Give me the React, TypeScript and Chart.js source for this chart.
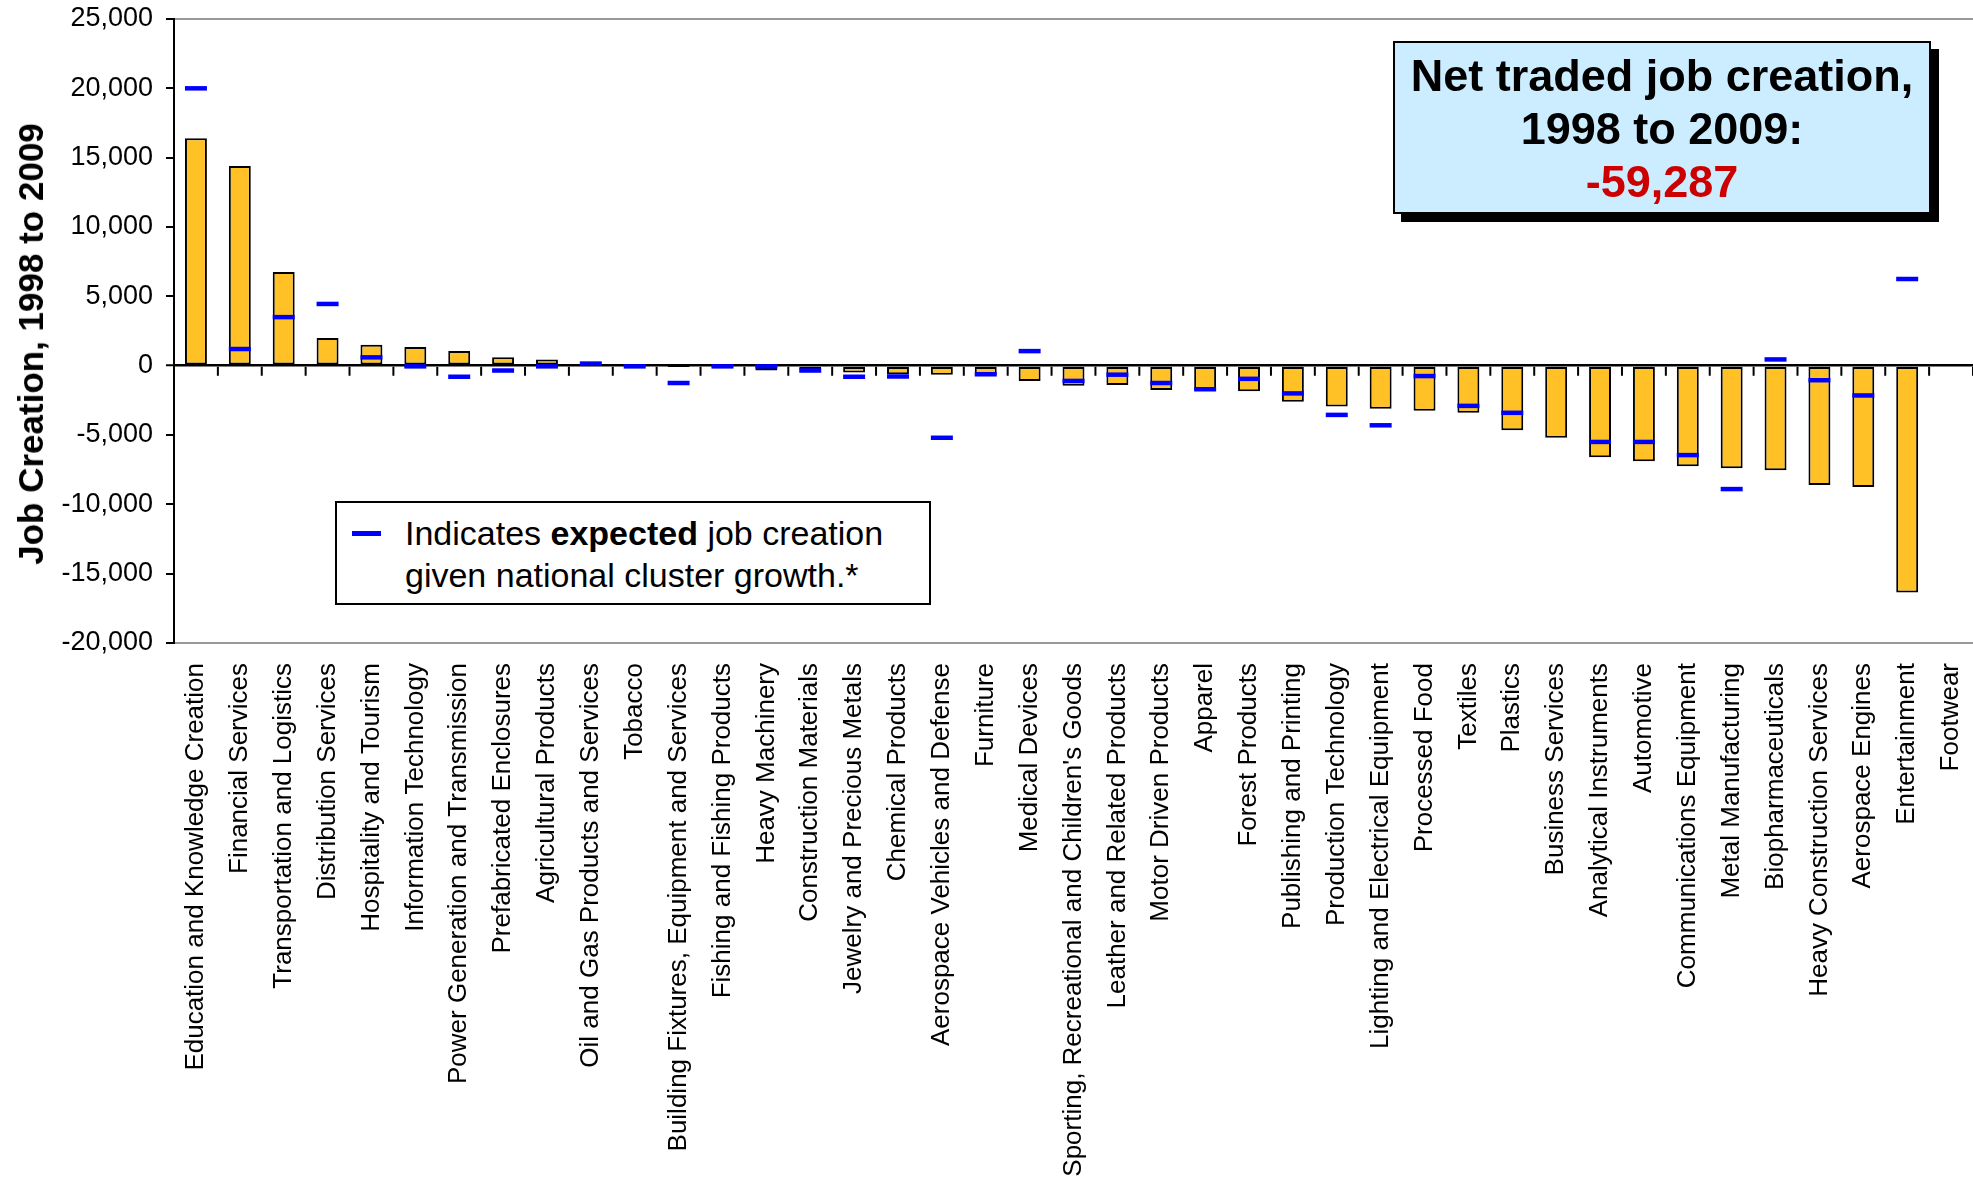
import React, { useEffect, useRef } from "react";
import { Chart, registerables } from "chart.js";

Chart.register(...registerables);

const FONT = "'Liberation Sans', Arial, Helvetica, sans-serif";

const clusters: string[] = [
  "Education and Knowledge Creation",
  "Financial Services",
  "Transportation and Logistics",
  "Distribution Services",
  "Hospitality and Tourism",
  "Information Technology",
  "Power Generation and Transmission",
  "Prefabricated Enclosures",
  "Agricultural Products",
  "Oil and Gas Products and Services",
  "Tobacco",
  "Building Fixtures, Equipment and Services",
  "Fishing and Fishing Products",
  "Heavy Machinery",
  "Construction Materials",
  "Jewelry and Precious Metals",
  "Chemical Products",
  "Aerospace Vehicles and Defense",
  "Furniture",
  "Medical Devices",
  "Sporting, Recreational and Children's Goods",
  "Leather and Related Products",
  "Motor Driven Products",
  "Apparel",
  "Forest Products",
  "Publishing and Printing",
  "Production Technology",
  "Lighting and Electrical Equipment",
  "Processed Food",
  "Textiles",
  "Plastics",
  "Business Services",
  "Analytical Instruments",
  "Automotive",
  "Communications Equipment",
  "Metal Manufacturing",
  "Biopharmaceuticals",
  "Heavy Construction Services",
  "Aerospace Engines",
  "Entertainment",
  "Footwear",
];

// Actual job creation 1998-2009 (bars)
const actualJobs: (number | null)[] = [
  16400, 14400, 6750, 2000, 1500, 1350, 1050, 600, 450, 50,
  0, -30, -150, -350, -300, -500, -620, -650, -650, -1100,
  -1450, -1400, -1750, -1750, -1850, -2600, -2950, -3100, -3250, -3400,
  -4650, -5200, -6600, -6900, -7250, -7400, -7550, -8600, -8750, -16350,
  null,
];

// Expected job creation given national cluster growth (blue dashes)
const expectedJobs: (number | null)[] = [
  20000, 1200, 3500, 4450, 600, -50, -800, -350, -50, 150,
  -50, -1250, -50, -50, -350, -800, -780, -5200, -620, 1050,
  -1100, -650, -1250, -1700, -950, -2000, -3550, -4300, -750, -2900,
  -3400, null, -5500, -5500, -6450, -8900, 450, -1050, -2150, 6250,
  null,
];

const yTickMin = -20000;
const yTickMax = 25000;
const yTickStep = 5000;

const axisTitle = "Job Creation, 1998 to 2009";
const netTitleLines = ["Net traded job creation,", "1998 to 2009:"];
const netValue = "-59,287";

const zeroTicksPlugin = {
  id: "zeroTicks",
  beforeDatasetsDraw(chart: any) {
    const xs = chart.scales.x;
    const ys = chart.scales.y;
    const ctx = chart.ctx;
    const n = clusters.length;
    const y0 = ys.getPixelForValue(0);
    const w = xs.getPixelForTick(1) - xs.getPixelForTick(0);
    ctx.save();
    ctx.strokeStyle = "#000";
    ctx.lineWidth = 2;
    ctx.beginPath();
    for (let i = 1; i <= n; i++) {
      const bx = xs.getPixelForTick(i - 1) + w / 2;
      ctx.moveTo(bx, y0 + 1);
      ctx.lineTo(bx, y0 + 10);
    }
    ctx.stroke();
    ctx.restore();
  },
};

export default function App() {
  const canvasRef = useRef<HTMLCanvasElement | null>(null);

  useEffect(() => {
    if (!canvasRef.current) return;
    const chart = new Chart(canvasRef.current, {
      type: "bar",
      data: {
        labels: clusters,
        datasets: [
          {
            type: "line",
            label: "Expected",
            data: expectedJobs,
            showLine: false,
            pointStyle: "line",
            pointRadius: 11,
            pointHoverRadius: 11,
            pointBorderWidth: 4.5,
            pointBorderColor: "#0000FF",
            pointBackgroundColor: "#0000FF",
            borderColor: "#0000FF",
            clip: false,
            order: 1,
          } as any,
          {
            type: "bar",
            label: "Actual",
            data: actualJobs,
            backgroundColor: "#FFC125",
            borderColor: "#000000",
            borderWidth: 2,
            borderSkipped: false,
            barPercentage: 0.5,
            categoryPercentage: 1,
            order: 2,
          } as any,
        ],
      },
      options: {
        animation: false,
        responsive: false,
        devicePixelRatio: 1,
        layout: { autoPadding: false, padding: { top: 19, right: -9, left: 0, bottom: 0 } },
        plugins: {
          legend: { display: false },
          tooltip: { enabled: false },
        },
        scales: {
          x: {
            ticks: {
              autoSkip: false,
              maxRotation: 90,
              minRotation: 90,
              color: "#000",
              font: { family: FONT, size: 26 },
              padding: 20,
            },
            grid: { display: false, drawTicks: false },
            border: { color: "#999", width: 2 },
            afterFit: (s: any) => {
              s.height = 540;
              s.paddingLeft = 0;
              s.paddingRight = 0;
            },
          },
          y: {
            min: yTickMin,
            max: yTickMax,
            ticks: {
              stepSize: yTickStep,
              color: "#000",
              font: { family: FONT, size: 27 },
              padding: 13,
              callback: (v: any) => Number(v).toLocaleString("en-US"),
            },
            grid: {
              color: (c: any) => {
                const v = c.tick ? c.tick.value : null;
                if (v === 0) return "#000";
                if (v === yTickMax) return "#999";
                return "rgba(0,0,0,0)";
              },
              lineWidth: (c: any) => (c.tick && c.tick.value === 0 ? 2.5 : 2),
              drawTicks: true,
              tickLength: 8,
              tickColor: "#000",
              tickWidth: 2,
            },
            border: { color: "#000", width: 2 },
            title: { display: false },
            afterFit: (s: any) => {
              s.width = 174;
              s.paddingTop = 0;
              s.paddingBottom = 0;
            },
          },
        },
      },
      plugins: [zeroTicksPlugin],
    } as any);
    return () => chart.destroy();
  }, []);

  return (
    <div
      style={{
        position: "absolute",
        left: 0,
        top: 0,
        width: 1973,
        height: 1183,
        overflow: "hidden",
        background: "#fff",
        fontFamily: FONT,
      }}
    >
      <canvas
        ref={canvasRef}
        width={1973}
        height={1183}
        style={{ position: "absolute", left: 0, top: 0, width: 1973, height: 1183 }}
      />
      {/* Y axis title */}
      <div
        style={{
          position: "absolute",
          left: 31,
          top: 344,
          transform: "translate(-50%, -50%) rotate(-90deg)",
          fontWeight: "bold",
          fontSize: 35,
          lineHeight: "40px",
          color: "#000",
          whiteSpace: "nowrap",
        }}
      >
        {axisTitle}
      </div>
      {/* Legend box */}
      <div
        style={{
          position: "absolute",
          left: 335,
          top: 501,
          width: 596,
          height: 104,
          boxSizing: "border-box",
          border: "2px solid #000",
          background: "#fff",
        }}
      >
        <div
          style={{
            position: "absolute",
            left: 15,
            top: 28,
            width: 29,
            height: 5,
            background: "#0000FF",
          }}
        />
        <div
          style={{
            position: "absolute",
            left: 68,
            top: 9,
            fontSize: 34,
            lineHeight: "42px",
            color: "#000",
            whiteSpace: "nowrap",
          }}
        >
          <div>
            Indicates <b>expected</b> job creation
          </div>
          <div>given national cluster growth.*</div>
        </div>
      </div>
      {/* Net job creation box */}
      <div
        style={{
          position: "absolute",
          left: 1393,
          top: 41,
          width: 538,
          height: 173,
          boxSizing: "border-box",
          border: "2px solid #000",
          background: "#CCECFF",
          boxShadow: "8px 8px 0 #000",
          textAlign: "center",
          fontWeight: "bold",
          fontSize: 45,
          lineHeight: "53px",
          paddingTop: 6,
          color: "#000",
          whiteSpace: "nowrap",
        }}
      >
        <div>{netTitleLines[0]}</div>
        <div>{netTitleLines[1]}</div>
        <div style={{ color: "#CC0000" }}>{netValue}</div>
      </div>
    </div>
  );
}
